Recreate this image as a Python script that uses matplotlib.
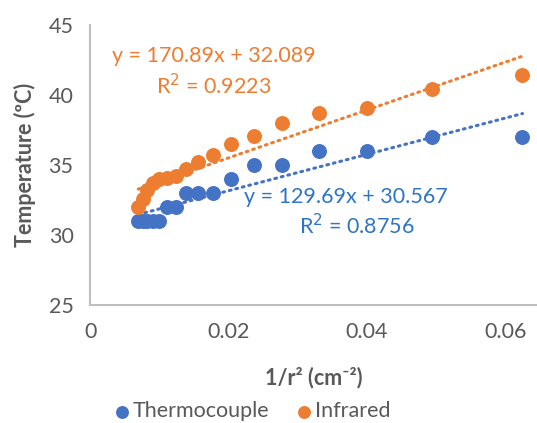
import numpy as np
import matplotlib.pyplot as plt

# distances r (cm) -> x = 1/r^2
r = np.array([4, 4.5, 5, 5.5, 6, 6.5, 7, 7.5, 8, 8.5, 9, 9.5, 10, 10.5, 11, 11.5, 12])
inv_r2 = 1 / r**2
thermocouple = [37, 37, 36, 36, 35, 35, 34, 33, 33, 33, 32, 32, 31, 31, 31, 31, 31]
infrared = [41.4, 40.4, 39.1, 38.7, 38.0, 37.1, 36.5, 35.7, 35.2, 34.7, 34.2, 34.1, 34.0, 33.7, 33.2, 32.6, 32.0]

tc_fit = (129.69, 30.567, 0.8756)
ir_fit = (170.89, 32.089, 0.9223)

blue = '#4472C4'
blue_txt = '#2E75C6'
orange = '#ED7D31'
grey = '#595959'

plt.rcParams['font.family'] = ['Lato', 'DejaVu Sans']

fig = plt.figure(figsize=(5.37, 4.23), dpi=100)
ax = fig.add_axes([0.168, 0.279, 0.832, 0.662])

ax.scatter(inv_r2, thermocouple, s=95, color=blue, zorder=3, label='Thermocouple')
ax.scatter(inv_r2, infrared, s=95, color=orange, zorder=3, label='Infrared')

xs = np.array([inv_r2.min(), inv_r2.max()])
ax.plot(xs, tc_fit[0] * xs + tc_fit[1], color=blue, lw=2.2, ls=(0, (0.6, 1.6)),
        dash_capstyle='round', zorder=2)
ax.plot(xs, ir_fit[0] * xs + ir_fit[1], color=orange, lw=2.2, ls=(0, (0.6, 1.6)),
        dash_capstyle='round', zorder=2)

fs = 15.5
ax.text(0.0178, 42.75, 'y = 170.89x + 32.089', color=orange, fontsize=fs, ha='center', va='center')
ax.text(0.0178, 40.7, 'R$^2$ = 0.9223', color=orange, fontsize=fs, ha='center', va='center')
ax.text(0.0370, 32.7, 'y = 129.69x + 30.567', color=blue_txt, fontsize=fs, ha='center', va='center')
ax.text(0.0385, 30.7, 'R$^2$ = 0.8756', color=blue_txt, fontsize=fs, ha='center', va='center')

ax.set_xlim(0, 0.0646)
ax.set_ylim(25, 45)
ax.set_xticks([0, 0.02, 0.04, 0.06])
ax.set_xticklabels(['0', '0.02', '0.04', '0.06'])
ax.set_yticks([25, 30, 35, 40, 45])
ax.tick_params(length=0, labelsize=fs, labelcolor=grey, pad=12)

for s in ['top', 'right']:
    ax.spines[s].set_visible(False)
for s in ['left', 'bottom']:
    ax.spines[s].set_color('#BFBFBF')
    ax.spines[s].set_linewidth(1.5)

ax.set_xlabel('1/r² (cm⁻²)', fontsize=fs, fontweight='bold', color=grey, labelpad=18)
ax.set_ylabel('Temperature (ºC)', fontsize=fs, fontweight='bold', color=grey, labelpad=9)

fig.legend(loc='center', bbox_to_anchor=(0.465, 0.028), ncol=2, frameon=False,
           fontsize=fs, labelcolor=grey, handletextpad=-0.1, columnspacing=1.0,
           markerscale=0.85, handlelength=1.2)

fig.savefig('out.png', dpi=100)
